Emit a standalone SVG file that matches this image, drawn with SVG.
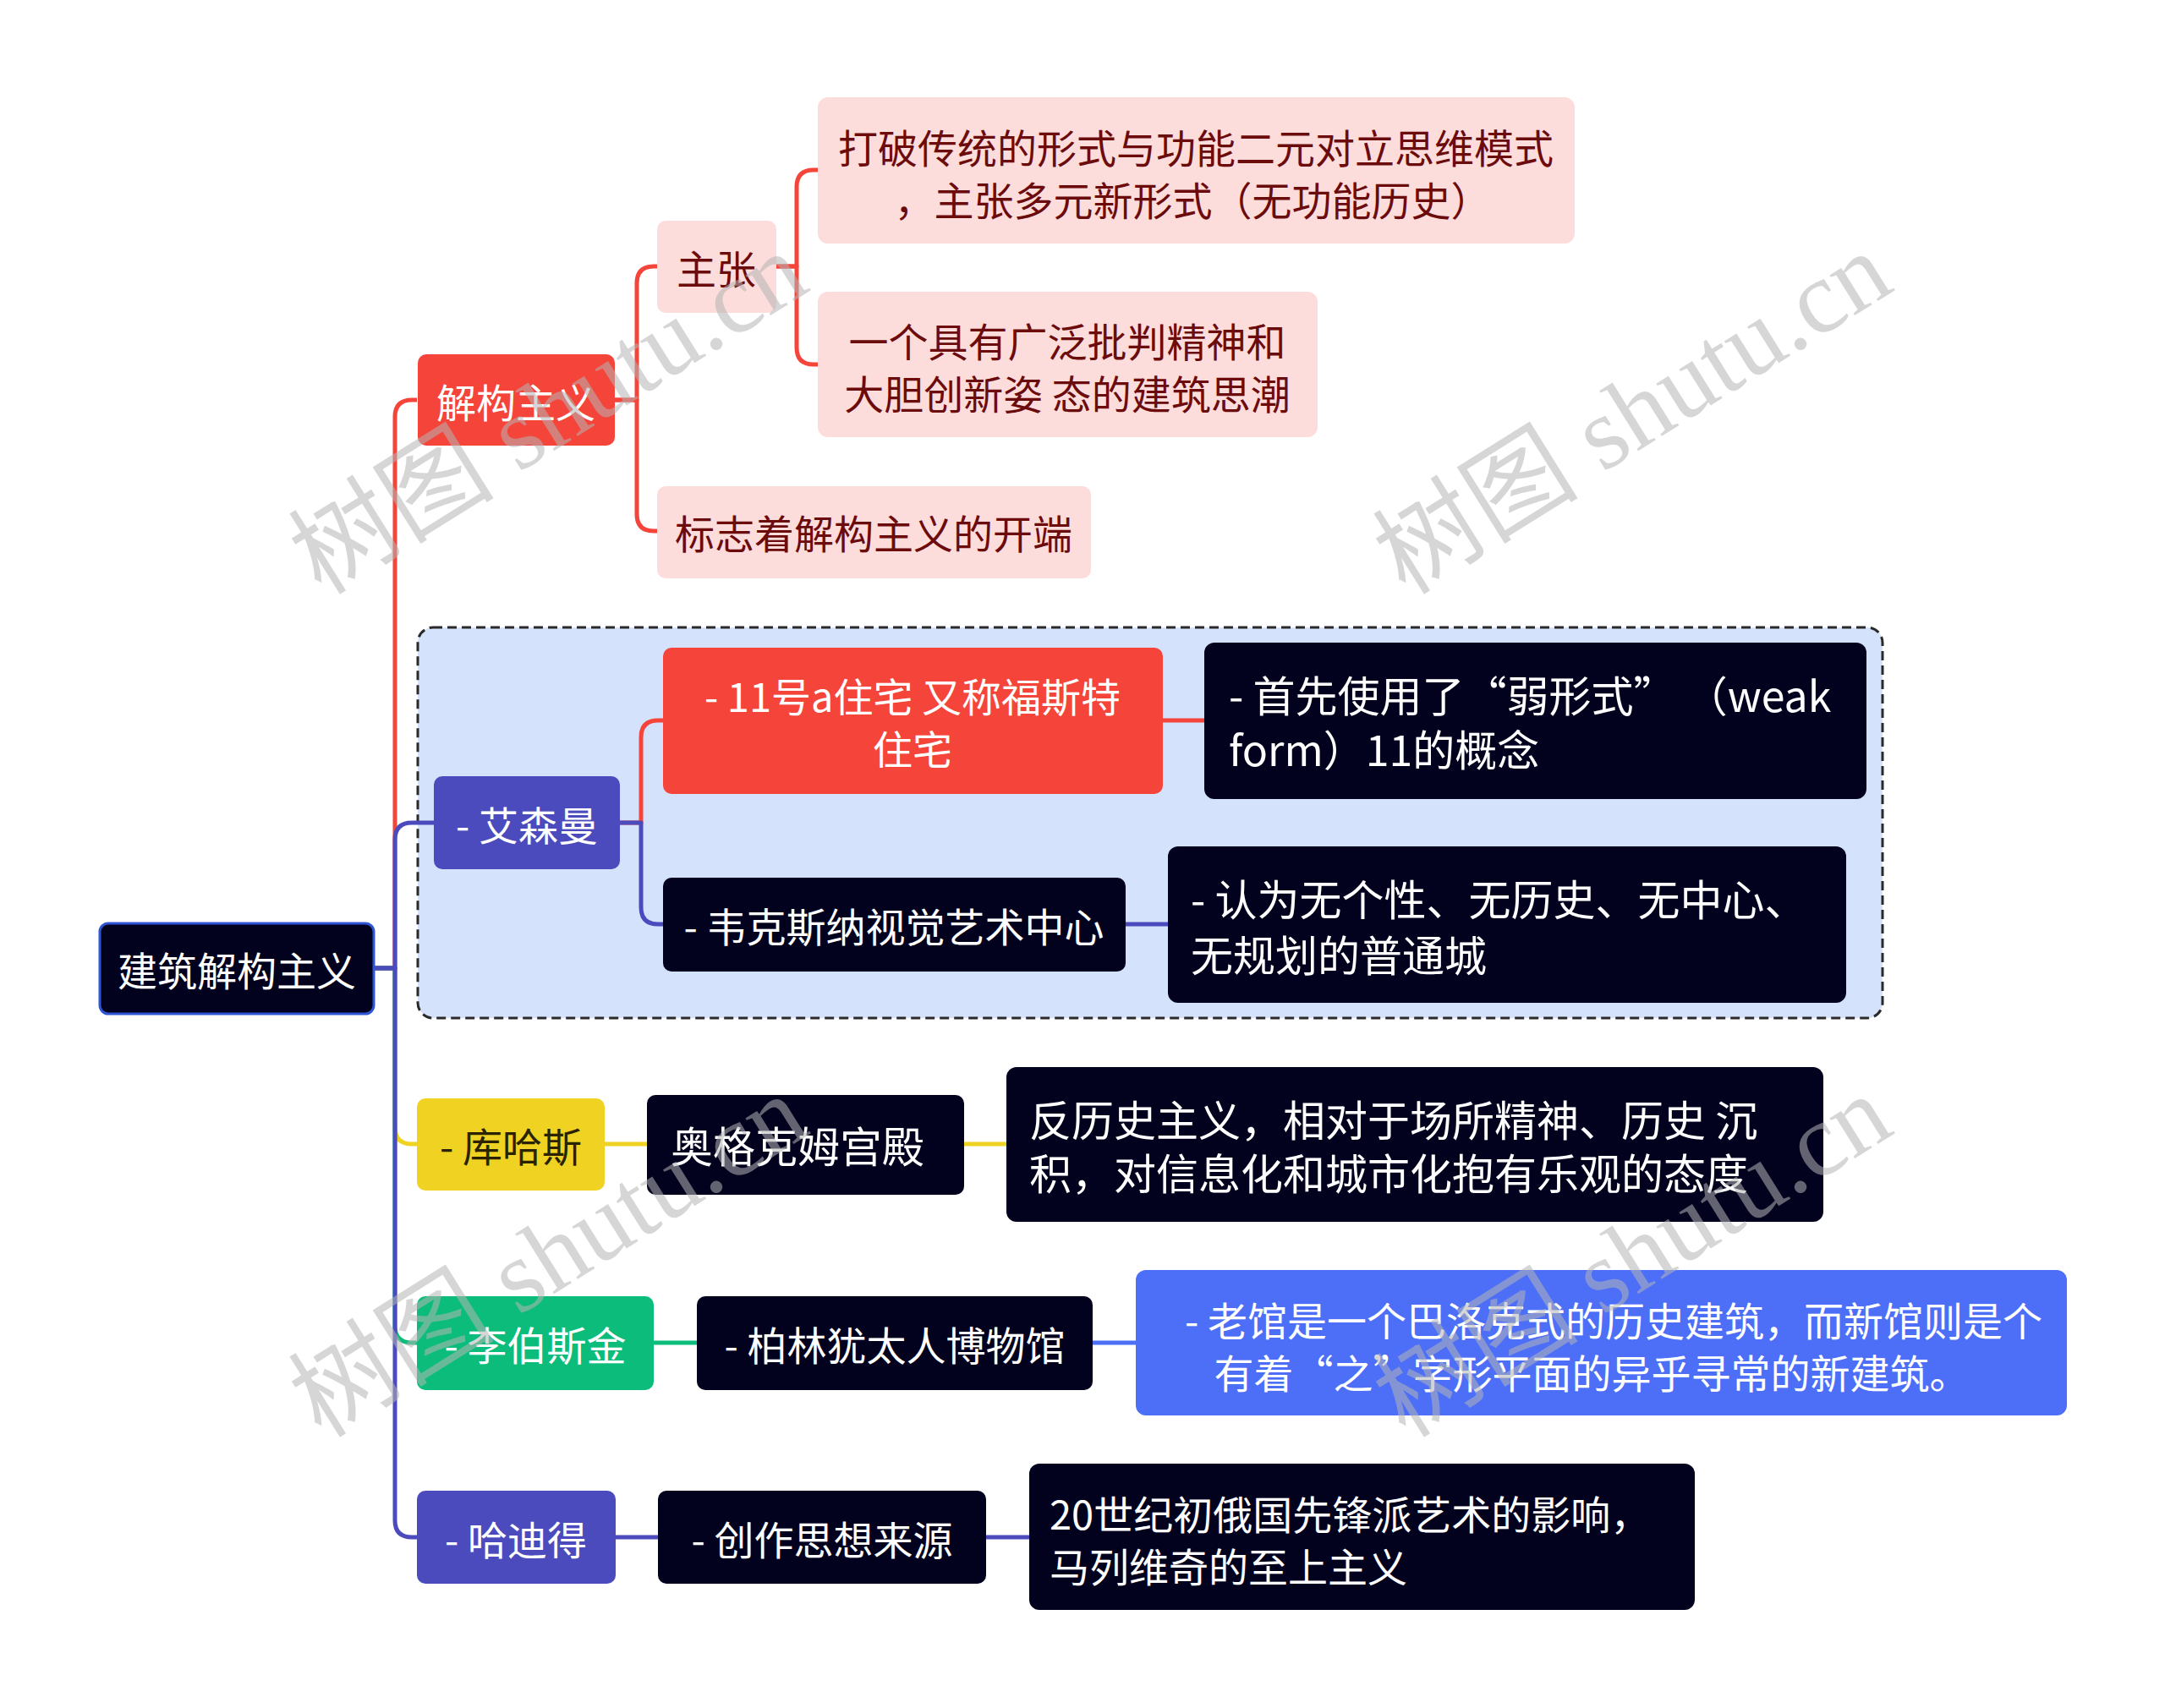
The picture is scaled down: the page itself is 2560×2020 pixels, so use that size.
<svg xmlns="http://www.w3.org/2000/svg" width="2560" height="2020" viewBox="0 0 2560 2020">
<style>
text{font-family:"Noto Sans CJK SC","Noto Sans",sans-serif;font-size:47px;dominant-baseline:central}
.big{font-size:50px}
.c{text-anchor:middle}
.w{fill:#ffffff}
.pk{fill:#6b0b0b}
.dk{fill:#2b2300}
.con{fill:none;stroke-width:5;stroke-linejoin:round}
.red{stroke:#f5443a}.pur{stroke:#4b4bbd}.yel{stroke:#f0d223}.grn{stroke:#0cbc7b}.blu{stroke:#4d6ff8}
.nRed{fill:#f5443a}.nPink{fill:#fddcdc}.nDark{fill:#02021f}.nPur{fill:#4b4bbd}.nYel{fill:#f0d223}.nGrn{fill:#0cbc7b}.nBlu{fill:#4d6ff8}
.wm{font-family:"Liberation Serif","Noto Sans CJK SC",serif;font-size:122px;fill:#b4b4b4;fill-opacity:0.55;dominant-baseline:alphabetic}
</style>
<rect width="2560" height="2020" fill="#ffffff"/>
<g id="group-box">
<rect x="494" y="742" width="1732" height="462" rx="18" fill="#d4e3fb" stroke="#2a2a2a" stroke-width="3" stroke-dasharray="11 6"/>
</g>
<g id="connectors">
<path class="con red" d="M442,1145 H467 V493 Q467,473 487,473 H493"/>
<path class="con yel" d="M442,1145 H467 V1333 Q467,1353 487,1353 H493"/>
<path class="con grn" d="M442,1145 H467 V1568 Q467,1588 487,1588 H493"/>
<path class="con pur" d="M442,1145 H467 V993 Q467,973 487,973 H513"/>
<path class="con pur" d="M442,1145 H467 V1798 Q467,1818 487,1818 H493"/>
<path class="con red" d="M727,473 H753 V335 Q753,315 773,315 H777"/>
<path class="con red" d="M727,473 H753 V608 Q753,628 773,628 H777"/>
<path class="con red" d="M918,315 H942 V221 Q942,201 962,201 H967"/>
<path class="con red" d="M918,315 H942 V411 Q942,431 962,431 H967"/>
<path class="con red" d="M733,973 H758 V872 Q758,852 778,852 H784"/>
<path class="con pur" d="M733,973 H758 V1073 Q758,1093 778,1093 H784"/>
<path class="con red" d="M1375,852 H1424"/>
<path class="con pur" d="M1331,1093 H1381"/>
<path class="con yel" d="M715,1353 H765"/>
<path class="con yel" d="M1140,1353 H1190"/>
<path class="con grn" d="M773,1588 H824"/>
<path class="con blu" d="M1292,1588 H1343"/>
<path class="con pur" d="M728,1818 H778"/>
<path class="con pur" d="M1166,1818 H1217"/>
</g>
<g id="root">
<rect x="118" y="1092" width="324" height="107" rx="10" class="nDark" stroke="#2f55d4" stroke-width="3"/>
<text class="c w" x="280" y="1145">建筑解构主义</text>
</g>
<g id="n-jiegou">
<rect x="494" y="419" width="233" height="108" rx="10" class="nRed"/>
<text class="c w" x="610" y="473">解构主义</text>
</g>
<g id="n-zhuzhang">
<rect x="777" y="261" width="141" height="109" rx="10" class="nPink"/>
<text class="c pk" x="847" y="315">主张</text>
</g>
<g id="n-dapo">
<rect x="967" y="115" width="895" height="173" rx="12" class="nPink"/>
<text class="c pk" x="1414" y="172">打破传统的形式与功能二元对立思维模式</text>
<text class="c pk" x="1410" y="234">，主张多元新形式（无功能历史）</text>
</g>
<g id="n-yige">
<rect x="967" y="345" width="591" height="172" rx="12" class="nPink"/>
<text class="c pk" x="1262" y="401">一个具有广泛批判精神和</text>
<text class="c pk" x="1262" y="463">大胆创新姿 态的建筑思潮</text>
</g>
<g id="n-biaozhi">
<rect x="777" y="575" width="513" height="109" rx="10" class="nPink"/>
<text class="c pk" x="1033" y="628">标志着解构主义的开端</text>
</g>
<g id="n-aisenman">
<rect x="513" y="918" width="220" height="110" rx="10" class="nPur"/>
<text class="c w" x="623" y="973">- 艾森曼</text>
</g>
<g id="n-11hao">
<rect x="784" y="766" width="591" height="173" rx="10" class="nRed"/>
<text class="c w" x="1079" y="821">- 11号a住宅 又称福斯特</text>
<text class="c w" x="1079" y="883">住宅</text>
</g>
<g id="n-shouxian">
<rect x="1424" y="760" width="783" height="185" rx="12" class="nDark"/>
<text class="w big" x="1453" y="820">- 首先使用了“弱形式” （weak</text>
<text class="w big" x="1453" y="884">form）11的概念</text>
</g>
<g id="n-weikesina">
<rect x="784" y="1038" width="547" height="111" rx="10" class="nDark"/>
<text class="c w" x="1057" y="1093">- 韦克斯纳视觉艺术中心</text>
</g>
<g id="n-renwei">
<rect x="1381" y="1001" width="802" height="185" rx="12" class="nDark"/>
<text class="w big" x="1408" y="1061">- 认为无个性、无历史、无中心、</text>
<text class="w big" x="1408" y="1127">无规划的普通城</text>
</g>
<g id="n-kuhasi">
<rect x="493" y="1299" width="222" height="109" rx="10" class="nYel"/>
<text class="c dk" x="604" y="1353">- 库哈斯</text>
</g>
<g id="n-aogekemu">
<rect x="765" y="1295" width="375" height="118" rx="10" class="nDark"/>
<text class="c w big" x="943" y="1353">奥格克姆宫殿</text>
</g>
<g id="n-fanlishi">
<rect x="1190" y="1262" width="966" height="183" rx="12" class="nDark"/>
<text class="w big" x="1217" y="1322">反历史主义，相对于场所精神、历史 沉</text>
<text class="w big" x="1217" y="1385">积，对信息化和城市化抱有乐观的态度</text>
</g>
<g id="n-libosijin">
<rect x="493" y="1533" width="280" height="111" rx="10" class="nGrn"/>
<text class="c w" x="633" y="1588">- 李伯斯金</text>
</g>
<g id="n-bolin">
<rect x="824" y="1533" width="468" height="111" rx="10" class="nDark"/>
<text class="c w" x="1058" y="1588">- 柏林犹太人博物馆</text>
</g>
<g id="n-laoguan">
<rect x="1343" y="1502" width="1101" height="172" rx="12" class="nBlu"/>
<text class="c w" x="1908" y="1559">- 老馆是一个巴洛克式的历史建筑，而新馆则是个</text>
<text class="c w" x="1882" y="1621">有着“之”字形平面的异乎寻常的新建筑。</text>
</g>
<g id="n-hadide">
<rect x="493" y="1763" width="235" height="110" rx="10" class="nPur"/>
<text class="c w" x="610" y="1818">- 哈迪得</text>
</g>
<g id="n-chuangzuo">
<rect x="778" y="1763" width="388" height="110" rx="10" class="nDark"/>
<text class="c w" x="972" y="1818">- 创作思想来源</text>
</g>
<g id="n-20shiji">
<rect x="1217" y="1731" width="787" height="173" rx="12" class="nDark"/>
<text class="w" x="1241" y="1788">20世纪初俄国先锋派艺术的影响，</text>
<text class="w" x="1241" y="1850">马列维奇的至上主义</text>
</g>
<g id="watermarks">
<text class="wm" transform="translate(380,705) rotate(-32)">树图 shutu.cn</text>
<text class="wm" transform="translate(1662,705) rotate(-32)">树图 shutu.cn</text>
<text class="wm" transform="translate(380,1702) rotate(-32)">树图 shutu.cn</text>
<text class="wm" transform="translate(1662,1702) rotate(-32)">树图 shutu.cn</text>
</g>
</svg>
